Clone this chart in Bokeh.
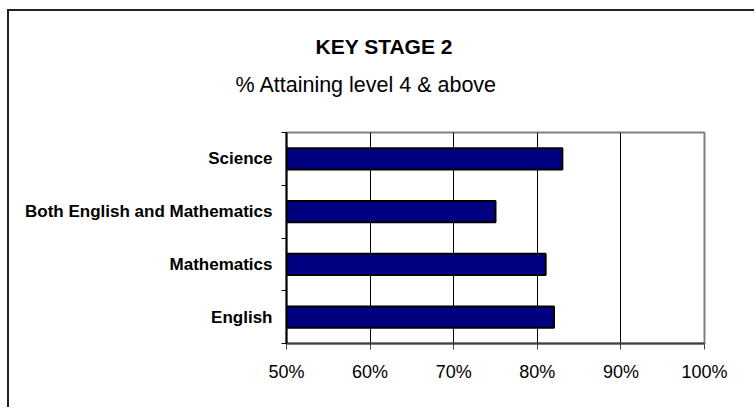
from bokeh.plotting import figure
from bokeh.models import (ColumnDataSource, FixedTicker, NumeralTickFormatter,
                          Range1d, Title)
from bokeh.embed import file_html
from bokeh.resources import INLINE

# ---- data ----
categories = ["English", "Mathematics", "Both English and Mathematics", "Science"]
values = [0.82, 0.81, 0.75, 0.83]
x_ticks = [0.5, 0.6, 0.7, 0.8, 0.9, 1.0]
title_text = "KEY STAGE 2"
subtitle_text = "% Attaining level 4 & above"

FONT = "Liberation Sans"
OX, OY = 9, 11           # inner origin of the figure on the page (after margin+border)
W, H = 756 - OX, 409 - OY
# frame edges in page pixels -> figure pixels
FL, FR, FT, FB = 286 - OX, 704 - OX, 132 - OY, 343 - OY

centers = [i + 0.5 for i in range(len(categories))]
bounds = [i for i in range(len(categories) + 1)]

src = ColumnDataSource(dict(y=centers, right=values, cat=categories))

p = figure(width=W, height=H, output_backend="svg", toolbar_location=None,
           x_range=Range1d(0.5, 1.0), y_range=Range1d(0, len(categories)),
           min_border_left=FL, min_border_right=W - FR,
           min_border_top=FT, min_border_bottom=H - FB)
p.styles = {"margin-left": "7px", "margin-top": "9px",
            "border-top": "2px solid #222222", "border-left": "2px solid #222222"}

p.hbar(y="y", left=0.5, right="right", height=0.4, source=src,
       fill_color="#000080", line_color="#000000", line_width=2)

# frame outline
p.outline_line_color = "#808080"
p.outline_line_width = 2

# x axis
p.xaxis.ticker = FixedTicker(ticks=x_ticks)
p.xaxis.formatter = NumeralTickFormatter(format="0%")
p.xaxis.axis_line_color = "#404040"
p.xaxis.axis_line_width = 2
p.xaxis.major_tick_line_color = "#404040"
p.xaxis.major_tick_out = 6
p.xaxis.major_tick_in = 0
p.xaxis.minor_tick_line_color = None
p.xaxis.major_label_text_font = FONT
p.xaxis.major_label_text_font_size = "18px"
p.xaxis.major_label_text_color = "#000000"
p.xaxis.major_label_standoff = 12

# y axis: labels at centers, ticks at boundaries
p.yaxis.ticker = FixedTicker(ticks=centers, minor_ticks=bounds)
p.yaxis.major_label_overrides = {c: cat for c, cat in zip(centers, categories)}
p.yaxis.axis_line_color = "#000000"
p.yaxis.axis_line_width = 2
p.yaxis.major_tick_line_color = None
p.yaxis.major_tick_out = 0
p.yaxis.major_tick_in = 0
p.yaxis.minor_tick_line_color = "#000000"
p.yaxis.minor_tick_out = 5
p.yaxis.minor_tick_in = 0
p.yaxis.major_label_text_font = FONT
p.yaxis.major_label_text_font_style = "bold"
p.yaxis.major_label_text_font_size = "17px"
p.yaxis.major_label_text_color = "#000000"
p.yaxis.major_label_standoff = 9

# grid
p.xgrid.ticker = FixedTicker(ticks=x_ticks[1:-1])
p.xgrid.grid_line_color = "#000000"
p.xgrid.grid_line_width = 1
p.ygrid.grid_line_color = None

# titles, stacked outward from the frame: spacer, subtitle, main title
p.add_layout(Title(text=" ", text_font=FONT, text_font_size="1px",
                   align="left", standoff=33), "above")
p.add_layout(Title(text=subtitle_text, text_font=FONT, text_font_size="21.5px",
                   text_font_style="normal", align="left",
                   offset=235 - 286, standoff=0,
                   text_color="#000000"), "above")
p.add_layout(Title(text=title_text, text_font=FONT, text_font_size="21px",
                   text_font_style="bold", align="left",
                   offset=315 - 286, standoff=25,
                   text_color="#000000"), "above")

p.background_fill_color = "#ffffff"
p.border_fill_color = "#ffffff"

open("out.html", "w").write(file_html(p, INLINE))
